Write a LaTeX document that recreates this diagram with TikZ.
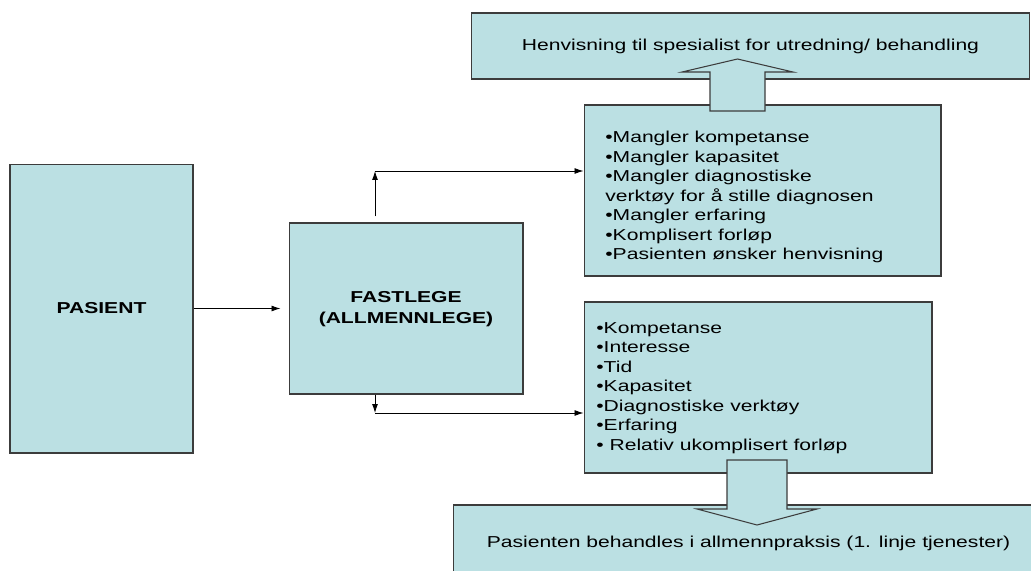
\documentclass[tikz,border=0pt]{standalone}
\usepackage{fontspec}
\setmainfont{Liberation Sans}
\usepackage{graphicx}
\usetikzlibrary{arrows.meta,calc}
\definecolor{boxfill}{RGB}{187,224,227}
\definecolor{boxline}{RGB}{60,60,60}
\newcommand{\sqz}[1]{\scalebox{1}[0.75]{#1}}
\begin{document}
\begin{tikzpicture}[x=0.02cm,y=-0.02cm,
	box/.style={draw=boxline,fill=boxfill,line width=0.6pt,inner sep=0pt,font=\fontsize{12}{14.8}\selectfont},
	txt/.style={inner sep=0pt,font=\fontsize{12}{14.8}\selectfont},
	bigarrow/.style={draw=boxline,fill=boxfill,line width=0.6pt,line join=miter},
	arr/.style={-{Latex[length=0.18cm,width=0.12cm]},line width=0.5pt}]
		\useasboundingbox (0,0) rectangle (1031,571);
		\clip (0,0) rectangle (1031,571);
		\node[box,minimum width=3.66cm,minimum height=5.78cm] (pasient) at (101.5,308.5) {\sqz{\textbf{PASIENT}}};
		\node[box,minimum width=4.68cm,minimum height=3.42cm,font=\fontsize{12}{16}\selectfont\bfseries] (fastlege) at (406,308.5) {\sqz{\begin{tabular}{@{}c@{}}FASTLEGE\\(ALLMENNLEGE)\end{tabular}}};
		\node[box,minimum width=11.18cm,minimum height=1.32cm] (henvisning) at (750.5,46) {\sqz{Henvisning til spesialist for utredning/ behandling}};
		\node[box,minimum width=7.14cm,minimum height=3.42cm] (mangler) at (762.5,190.5) {};
		\node[box,minimum width=6.96cm,minimum height=3.42cm] (kan) at (758,387.5) {};
		\node[box,minimum width=11.82cm,minimum height=1.52cm] (behandles) at (748.5,543) {\sqz{Pasienten behandles i allmennpraksis (1. linje tjenester)}};
		\node[txt,anchor=west] (manglertekst) at (605,197.5) {\sqz{\begin{tabular}{@{}l@{}}•Mangler kompetanse\\•Mangler kapasitet\\•Mangler diagnostiske\\verktøy for å stille diagnosen\\•Mangler erfaring\\•Komplisert forløp\\•Pasienten ønsker henvisning\end{tabular}}};
		\node[txt,anchor=west] (kantekst) at (596,388) {\sqz{\begin{tabular}{@{}l@{}}•Kompetanse\\•Interesse\\•Tid\\•Kapasitet\\•Diagnostiske verktøy\\•Erfaring\\• Relativ ukomplisert forløp\end{tabular}}};
		\draw[bigarrow] (710,111) -- (765,111) -- (765,72) -- (793,72) -- (737.5,59) -- (682,72) -- (710,72) -- cycle;
		\draw[bigarrow] (727,460) -- (787,460) -- (787,509) -- (817,509) -- (757,525) -- (697,509) -- (727,509) -- cycle;
		\coordinate (opp) at (375,171);
		\coordinate (ned) at (375,413);
		\draw[arr,shorten >=0.16cm] (pasient) -- (fastlege);
		\draw[arr,shorten <=0.12cm] (opp |- fastlege.north) -- (opp);
		\draw[arr] (opp) -- (opp -| mangler.west);
		\draw[arr] (ned |- fastlege.south) -- (ned);
		\draw[arr] (ned) -- (ned -| kan.west);
	\end{tikzpicture}
\end{document}
